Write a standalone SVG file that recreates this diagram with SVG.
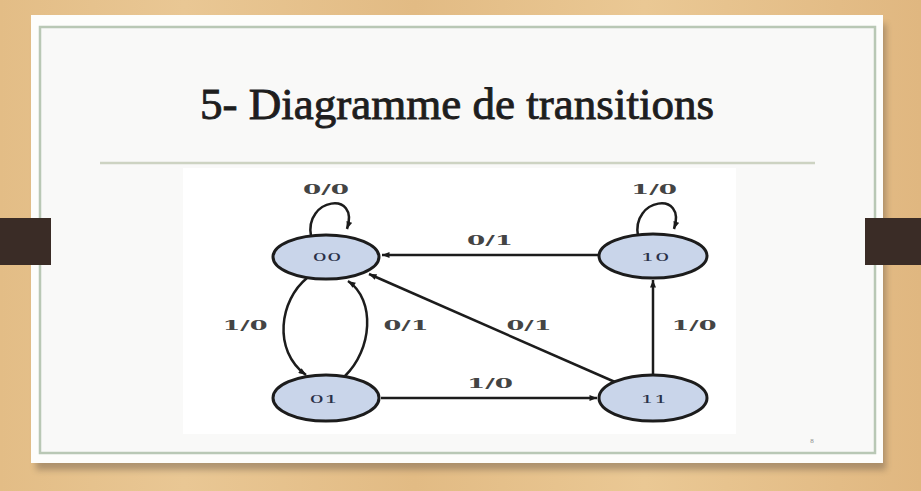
<svg xmlns="http://www.w3.org/2000/svg" width="921" height="491" viewBox="0 0 921 491">
<defs>
<linearGradient id="wood" x1="0" y1="0" x2="1" y2="0">
<stop offset="0" stop-color="#e3bd86"/>
<stop offset="0.2" stop-color="#e9c794"/>
<stop offset="0.45" stop-color="#e2bb84"/>
<stop offset="0.7" stop-color="#eac894"/>
<stop offset="1" stop-color="#e0b780"/>
</linearGradient>
<filter id="blur" x="-5%" y="-5%" width="110%" height="115%"><feGaussianBlur stdDeviation="3"/></filter>
<marker id="arr" viewBox="0 0 10 8" refX="10" refY="4" markerWidth="9" markerHeight="6" markerUnits="userSpaceOnUse" orient="auto">
<path d="M0,0 L10,4 L0,8 Z" fill="#1a1a1a"/>
</marker>
<style>
.node ellipse{fill:#c9d5ea;stroke:#1c1c1c;stroke-width:3}
.node text{font-family:"DejaVu Serif","Liberation Serif",serif;font-size:11px;fill:#2a3148;text-anchor:middle}
.lbl{font-family:"DejaVu Serif","Liberation Serif",serif;font-size:13px;font-weight:bold;fill:#444444;text-anchor:middle}
.edge{fill:none;stroke:#1c1c1c;stroke-width:2.5;marker-end:url(#arr)}
</style>
</defs>
<rect x="0" y="0" width="921" height="491" fill="url(#wood)"/>
<rect x="36" y="24" width="850" height="446" fill="#6b5a48" opacity="0.45" filter="url(#blur)"/>
<rect x="31" y="15" width="852" height="448" fill="#fdfdfb"/>
<rect x="40" y="27" width="835" height="426" fill="#f9f9f8" stroke="#b9c8b5" stroke-width="2.5"/>
<rect x="0" y="218" width="51" height="47" fill="#3a2c26"/>
<rect x="865" y="218" width="56" height="47" fill="#3a2c26"/>
<text x="457" y="119" font-family="Liberation Serif,serif" font-size="45" fill="#1e1e1e" stroke="#1e1e1e" stroke-width="0.9" text-anchor="middle" textLength="514" lengthAdjust="spacingAndGlyphs">5- Diagramme de transitions</text>
<line x1="100" y1="163" x2="815" y2="163" stroke="#cdd3c2" stroke-width="2.5"/>
<rect x="183" y="168" width="553" height="266" fill="#ffffff"/>
<text x="812" y="443" font-family="Liberation Serif,serif" font-size="7" fill="#888" text-anchor="middle">8</text>
<g id="connectors">
<path class="edge" d="M311,236 C304,198 360,190 347,229"/>
<path class="edge" d="M638,236 C631,198 687,190 674,229"/>
<line class="edge" x1="598" y1="255" x2="382" y2="255" stroke-width="2"/>
<line class="edge" x1="653" y1="376" x2="653" y2="280" stroke-width="3.5"/>
<line class="edge" x1="381" y1="398" x2="597" y2="398" stroke-width="3"/>
<line class="edge" x1="615" y1="382" x2="369" y2="274" stroke-width="2"/>
<path class="edge" d="M307,278 C280,300 272,350 306,375" stroke-width="3"/>
<path class="edge" d="M345,376 C372,350 376,300 348,281" stroke-width="3"/>
</g>
<g id="labels">
<text class="lbl" x="326" y="194" textLength="46" lengthAdjust="spacingAndGlyphs">0/0</text>
<text class="lbl" x="654" y="194" textLength="46" lengthAdjust="spacingAndGlyphs">1/0</text>
<text class="lbl" x="490" y="245" textLength="46" lengthAdjust="spacingAndGlyphs">0/1</text>
<text class="lbl" x="245" y="330" textLength="45" lengthAdjust="spacingAndGlyphs">1/0</text>
<text class="lbl" x="406" y="330" textLength="45" lengthAdjust="spacingAndGlyphs">0/1</text>
<text class="lbl" x="529" y="330" textLength="45" lengthAdjust="spacingAndGlyphs">0/1</text>
<text class="lbl" x="694" y="330" textLength="45" lengthAdjust="spacingAndGlyphs">1/0</text>
<text class="lbl" x="490" y="388" textLength="46" lengthAdjust="spacingAndGlyphs">1/0</text>
</g>
<g id="node-00" class="node"><ellipse cx="326" cy="257" rx="53" ry="22"/><text x="327" y="261" textLength="29" lengthAdjust="spacingAndGlyphs">00</text></g>
<g id="node-10" class="node"><ellipse cx="653" cy="256" rx="54" ry="22"/><text x="655" y="261" textLength="29" lengthAdjust="spacingAndGlyphs">10</text></g>
<g id="node-01" class="node"><ellipse cx="326" cy="398" rx="53" ry="23"/><text x="324" y="403" textLength="29" lengthAdjust="spacingAndGlyphs">01</text></g>
<g id="node-11" class="node"><ellipse cx="653" cy="398" rx="54" ry="23"/><text x="654" y="403" textLength="27" lengthAdjust="spacingAndGlyphs">11</text></g>
</svg>
